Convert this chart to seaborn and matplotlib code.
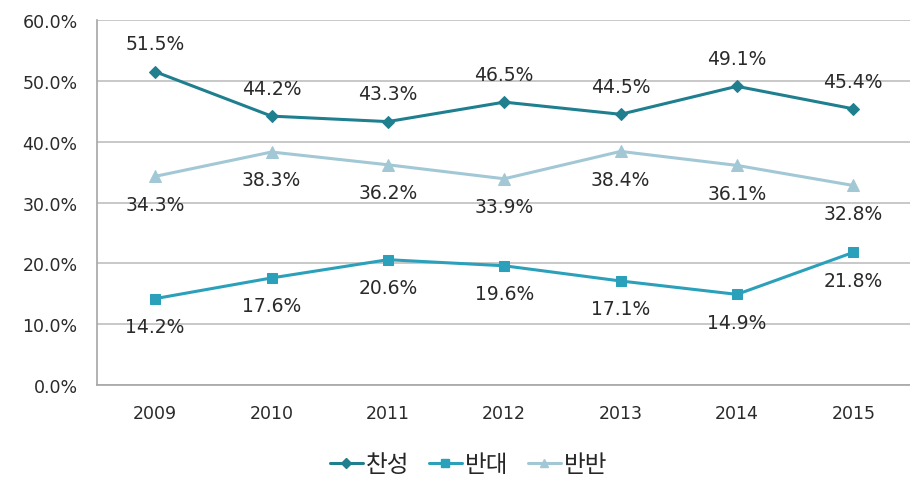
import matplotlib
matplotlib.use("Agg")
import matplotlib.pyplot as plt
import seaborn as sns
import pandas as pd
from matplotlib.lines import Line2D
from matplotlib.ticker import FuncFormatter

years = [2009, 2010, 2011, 2012, 2013, 2014, 2015]
agree = [51.5, 44.2, 43.3, 46.5, 44.5, 49.1, 45.4]
oppose = [14.2, 17.6, 20.6, 19.6, 17.1, 14.9, 21.8]
neutral = [34.3, 38.3, 36.2, 33.9, 38.4, 36.1, 32.8]
series_names = ["찬성", "반대", "반반"]
yticks = [0, 10, 20, 30, 40, 50, 60]

sns.set_theme(style="white")
plt.rcParams["font.family"] = ["DejaVu Sans", "Noto Sans CJK KR"]

df = pd.DataFrame({
    "year": years * 3,
    "value": agree + oppose + neutral,
    "series": [series_names[0]] * 7 + [series_names[1]] * 7 + [series_names[2]] * 7,
})

colors = {"찬성": "#1f7f8f", "반대": "#2ba0bb", "반반": "#a2c8d5"}
markers = {"찬성": "D", "반대": "s", "반반": "^"}
msizes = {"찬성": 6, "반대": 7.5, "반반": 8}

fig = plt.figure(figsize=(9.1, 4.85), dpi=100)
ax = fig.add_axes([0.1066, 0.2041, 0.895, 0.7526])

for name in series_names:
    sub = df[df["series"] == name]
    sns.lineplot(data=sub, x="year", y="value", ax=ax, color=colors[name],
                 marker=markers[name], markersize=msizes[name], linewidth=2.2,
                 markeredgecolor=colors[name], legend=False)

for name, offset in zip(series_names, [20, -20, -20]):
    sub = df[df["series"] == name]
    for x, y in zip(sub["year"], sub["value"]):
        ax.annotate(f"{y:.1f}%", (x, y), xytext=(0, offset), textcoords="offset points",
                    ha="center", va="center", fontsize=13.5, color="#2a2a2a")

ax.set_xlim(2008.5, 2015.5)
ax.set_ylim(0, 60)
ax.set_yticks(yticks)
ax.yaxis.set_major_formatter(FuncFormatter(lambda v, p: f"{v:.1f}%"))
ax.set_xticks(years)
ax.set_xticklabels([str(y) for y in years])
ax.tick_params(axis="both", labelsize=12.5, colors="#2a2a2a", length=0)
ax.tick_params(axis="y", pad=14)
ax.tick_params(axis="x", pad=14)
ax.grid(axis="y", color="#bfbfbf", linewidth=1.2)
ax.set_axisbelow(True)
for s in ["top", "right"]:
    ax.spines[s].set_visible(False)
for s in ["left", "bottom"]:
    ax.spines[s].set_color("#a6a6a6")
    ax.spines[s].set_linewidth(1.2)
ax.set_xlabel("")
ax.set_ylabel("")

handles = [Line2D([], [], color=colors[n], marker=markers[n], markersize=5.5,
                  markeredgecolor=colors[n], linewidth=2.2) for n in series_names]
fig.legend(handles, series_names, loc="center", bbox_to_anchor=(0.515, 0.04), ncol=3,
           frameon=False, handlelength=1.4, handletextpad=0.15,
           columnspacing=0.8, prop={"family": ["Noto Sans CJK KR"], "size": 17})

fig.savefig("out.png", dpi=100)
